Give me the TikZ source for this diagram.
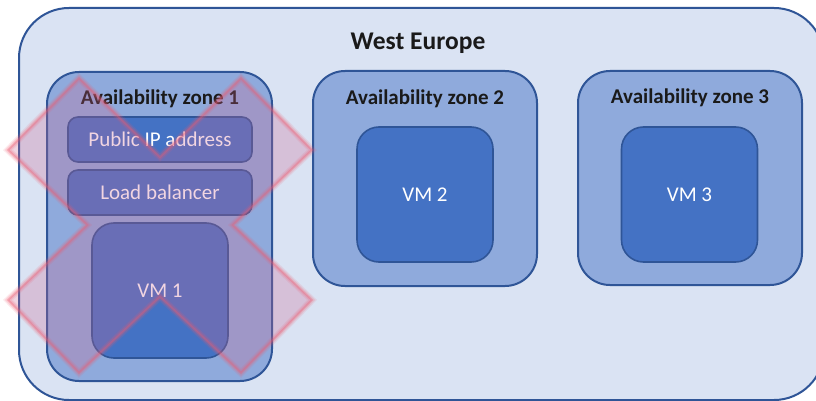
\documentclass[tikz,border=0pt]{standalone}
\usepackage{fontspec}
\setmainfont{Carlito}
\definecolor{bdr}{HTML}{2F5597}
\definecolor{lightbg}{HTML}{DAE3F3}
\definecolor{zonebg}{HTML}{8FAADC}
\definecolor{vmbg}{HTML}{4472C4}
\definecolor{titlec}{HTML}{1A1A1A}
\definecolor{xfill}{RGB}{205,100,145}
\definecolor{xline}{RGB}{240,90,110}
\begin{document}
\begin{tikzpicture}[x=1pt,y=-1pt,
  box/.style={draw=bdr, inner sep=0pt, outer sep=0pt},
  region/.style={box, line width=2pt, fill=lightbg, rounded corners=50pt},
  zonebox/.style={box, line width=2pt, fill=zonebg, rounded corners=32pt},
  vmbox/.style={box, line width=1.6pt, fill=vmbg, rounded corners=22pt, text=white,
    font=\fontsize{21}{24}\selectfont, minimum width=136pt, minimum height=135pt},
  svcbox/.style={box, line width=1.6pt, fill=vmbg, rounded corners=10pt, text=white,
    font=\fontsize{21}{24}\selectfont, minimum width=184pt, minimum height=45pt},
  ztitle/.style={inner sep=0pt, text=titlec, font=\bfseries\fontsize{21}{24}\selectfont},
  rtitle/.style={inner sep=0pt, text=titlec, font=\bfseries\fontsize{25.5}{28}\selectfont},
]
\useasboundingbox (0,0) rectangle (816,401);
\clip (0,0) rectangle (816,401);
\fill[white] (0,0) rectangle (816,401);

% region
\node[region, minimum width=805pt, minimum height=392pt] (we) at (421.5,204) {};
\node[rtitle] (wet) at (418,43) {West Europe};

% zones
\node[zonebox, minimum width=225pt, minimum height=309pt] (z1) at (159.5,226.5) {};
\node[zonebox, minimum width=224pt, minimum height=215pt] (z2) at (425,178.5) {};
\node[zonebox, minimum width=224pt, minimum height=214pt] (z3) at (690,178) {};
\node[ztitle] (z1t) at (160,99) {Availability zone 1};
\node[ztitle] (z2t) at (425,99) {Availability zone 2};
\node[ztitle] (z3t) at (690,98) {Availability zone 3};

% contents
\node[svcbox] (pip) at (160,139.5) {Public IP address};
\node[svcbox] (lb) at (160,192.5) {Load balancer};
\node[vmbox] (vm1) at (160,290.5) {VM 1};
\node[vmbox] (vm2) at (425,194.5) {VM 2};
\node[vmbox] (vm3) at (689.5,194.5) {VM 3};

% cross-out mark
\coordinate (xc) at (160,225);
\def\xpath{(xc) ++(-152,-75) -- ++(71,-72) -- ++(81,79) -- ++(81,-79) -- ++(71,72)
  -- ++(-79,75) -- ++(79,75) -- ++(-71,73) -- ++(-81,-76) -- ++(-81,76) -- ++(-71,-73)
  -- ++(79,-75) -- cycle}
\fill[xfill, opacity=0.27] \xpath;
\draw[xline, opacity=0.12, line width=7pt, line join=miter] \xpath;
\draw[xline, opacity=0.18, line width=4.5pt, line join=miter] \xpath;
\draw[xline, opacity=0.3, line width=2pt, line join=miter] \xpath;
\end{tikzpicture}
\end{document}
